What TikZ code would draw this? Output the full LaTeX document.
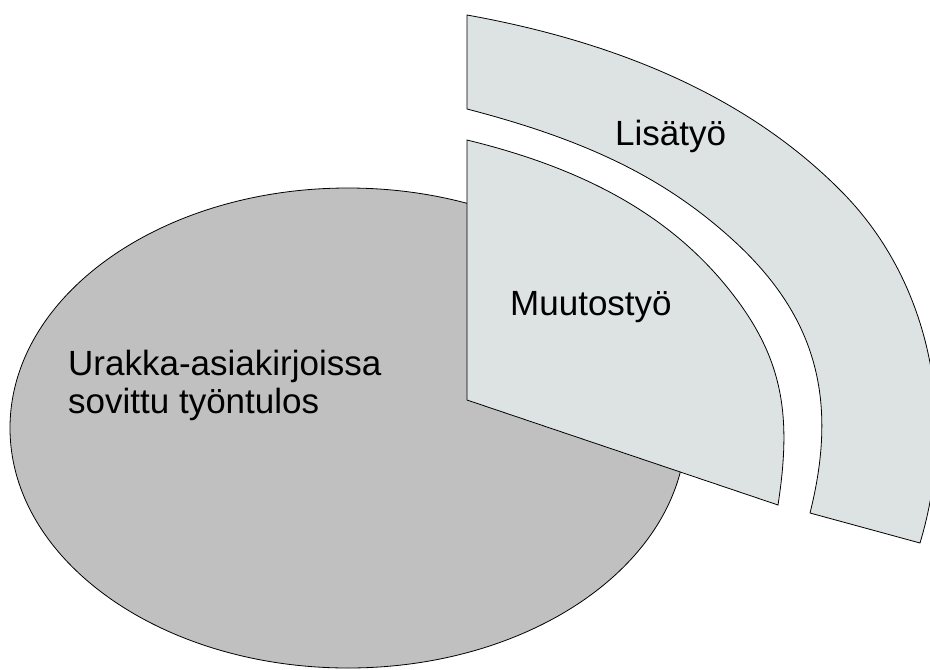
\documentclass[tikz,border=0pt]{standalone}
\usepackage{fontspec}
\setmainfont{Liberation Sans}
\definecolor{harmaa}{RGB}{192,192,192}
\definecolor{vaalea}{RGB}{221,227,227}
\begin{document}
\begin{tikzpicture}[x=1pt,y=-1pt,
    sektori/.style={fill=vaalea,draw=black,line width=0.8pt},
    teksti/.style={anchor=base west,inner sep=0pt,font=\fontsize{35}{40}\selectfont}]
  %kuvan rajat, ulkokaari menee reunan yli
	\clip (0,0) rectangle (930,670);

  %sovittu tyontulos
	\draw[fill=harmaa,line width=0.8pt] (348,428) ellipse [x radius=338, y radius=240];

  %muutostyo
	\draw[sektori] (467,400) -- (467,140) .. controls (582,168) and (667,213.3) .. (727,287)
		.. controls (783.8,356.8) and (791.9,415) .. (778,505) -- cycle;

  %lisatyo, ulkokaari ja sisakaari
	\draw[sektori] (467,15) .. controls (606.7,40.1) and (743.7,91.5) .. (843,193)
		.. controls (932.5,284.5) and (956.7,421.7) .. (920,543) -- (810,513)
		.. controls (838,401.5) and (818,317.5) .. (733,240)
		.. controls (662.8,176) and (583.2,139.2) .. (467,109) -- cycle;

  %tekstit
	\node[teksti] (lisa) at (615,145) {Lisätyö};
	\node[teksti] (muutos) at (510,315) {Muutostyö};
	\node[teksti] (urakka) at (68,375) {Urakka-asiakirjoissa};
	\node[teksti] (tulos) at (68,413) {sovittu työntulos};
\end{tikzpicture}
\end{document}
